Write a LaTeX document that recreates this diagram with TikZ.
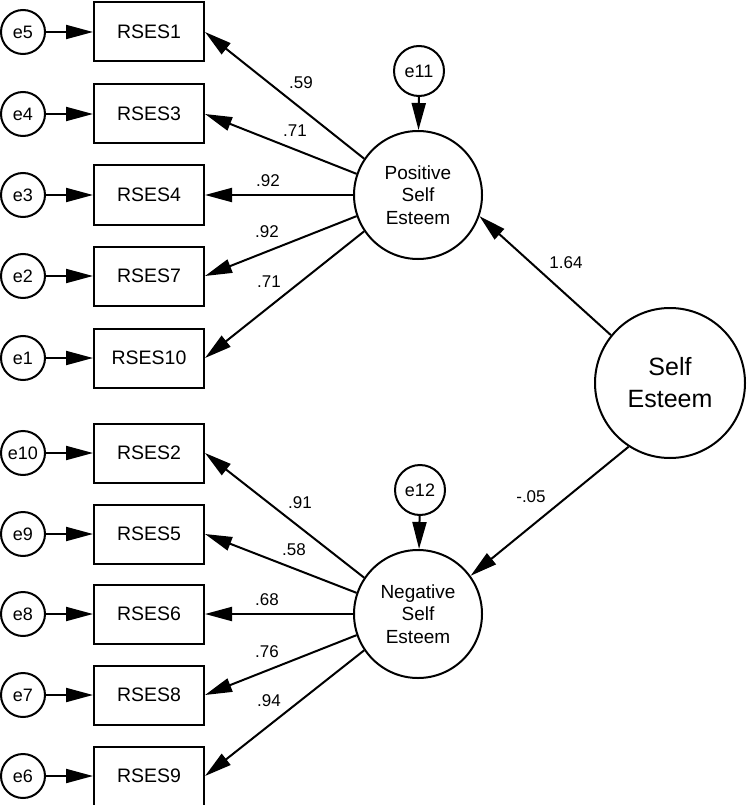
\documentclass[tikz,border=0pt]{standalone}
\usepackage{fontspec}
\setmainfont{Liberation Sans}
\usetikzlibrary{arrows.meta}
\begin{document}
\begin{tikzpicture}[x=1pt,y=-1pt,
  obs/.style={draw,line width=2pt,minimum width=110pt,minimum height=59pt,inner sep=0pt,font=\fontsize{19.5}{22}\selectfont},
  err/.style={draw,circle,line width=2pt,minimum size=44pt,inner sep=0pt,font=\fontsize{18}{21}\selectfont},
  lat/.style={draw,circle,line width=2pt,minimum size=128pt,inner sep=0pt,align=center,font=\fontsize{19}{22.5}\selectfont},
  arr/.style={line width=2pt,-{Triangle[length=27pt,width=14pt]}},
  coef/.style={font=\fontsize{17}{20}\selectfont,inner sep=0pt}]
\useasboundingbox (0,0) rectangle (750,805);
\foreach \n/\y/\e in {1/32/5,3/114/4,4/195/3,7/276/2,10/358/1,2/453/10,5/534/9,6/614/8,8/695/7,9/776/6}{
  \node[obs] (r\n) at (149,\y) {RSES\n};
  \node[err] (e\e) at (23,\y) {e\e};
  \draw[arr] (e\e) -- (r\n);
}
\node[lat] (pos) at (418,195) {Positive\\Self\\Esteem};
\node[lat] (neg) at (418,614) {Negative\\Self\\Esteem};
\node[lat,minimum size=150pt,font=\fontsize{25}{32}\selectfont] (se) at (670,383) {Self\\Esteem};
\node[err,minimum size=50pt] (e11) at (419,71) {e11};
\node[err,minimum size=50pt] (e12) at (420,490) {e12};
\draw[arr] (e11) -- (pos);
\draw[arr] (e12) -- (neg);
\draw[arr] (pos.146) -- (r1.east);
\draw[arr] (pos.161) -- (r3.east);
\draw[arr] (pos.180) -- (r4.east);
\draw[arr] (pos.-161) -- (r7.east);
\draw[arr] (pos.-146) -- (r10.east);
\draw[arr] (neg.146) -- (r2.east);
\draw[arr] (neg.161) -- (r5.east);
\draw[arr] (neg.180) -- (r6.east);
\draw[arr] (neg.-161) -- (r8.east);
\draw[arr] (neg.-146) -- (r9.east);
\draw[arr] (se.141.5) -- (pos.-19);
\draw[arr] (se.-123.5) -- (neg.36.5);
\node[coef] (c1) at (301,83) {.59};
\node[coef] (c3) at (295,131) {.71};
\node[coef] (c4) at (268,181) {.92};
\node[coef] (c7) at (267,232) {.92};
\node[coef] (c10) at (269,282) {.71};
\node[coef] (c2) at (300,503) {.91};
\node[coef] (c5) at (294,550) {.58};
\node[coef] (c6) at (267,600) {.68};
\node[coef] (c8) at (267,652) {.76};
\node[coef] (c9) at (269,701) {.94};
\node[coef] (cp) at (566,263) {1.64};
\node[coef] (cn) at (531,497) {-.05};
\end{tikzpicture}
\end{document}
